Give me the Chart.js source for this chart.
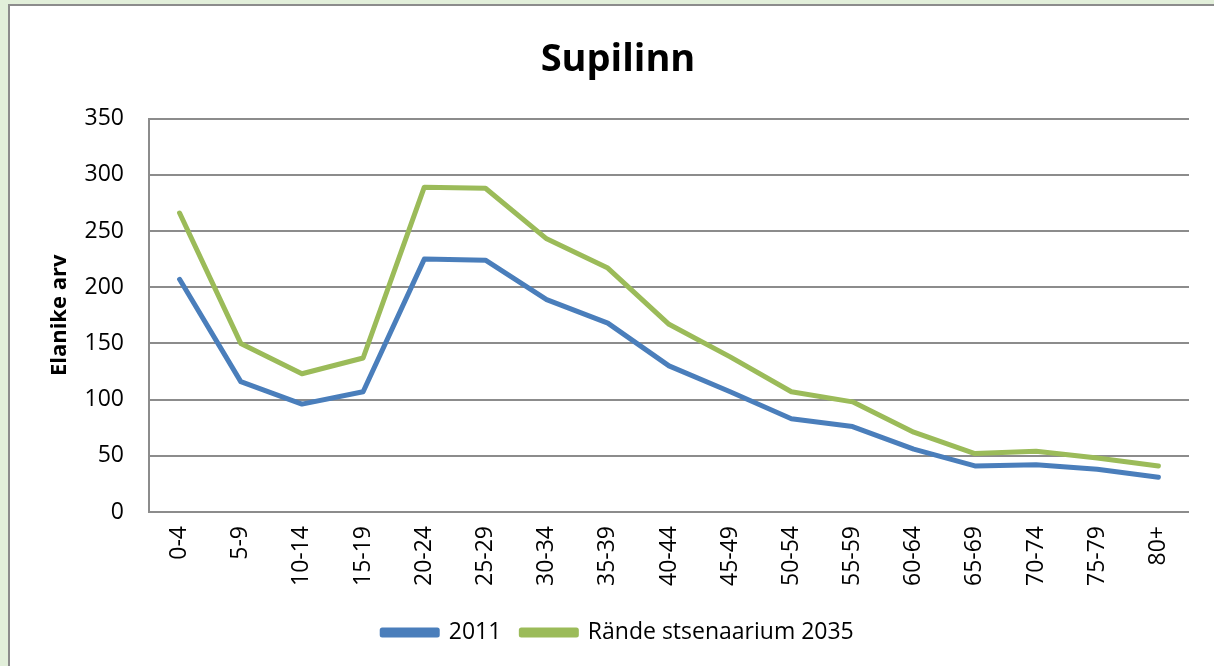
<!DOCTYPE html>
<html>
<head>
<meta charset="utf-8">
<script src="https://cdn.jsdelivr.net/npm/chart.js@4"></script>
<style>
	html, body { margin: 0; padding: 0; background: #e2efda; }
	#wrap { width: 1214px; height: 666px; position: relative; }
</style>
</head>
<body>
<div id="wrap"><canvas id="supilinn" width="1214" height="666"></canvas></div>
<script>
const ageGroups = ["0-4", "5-9", "10-14", "15-19", "20-24", "25-29", "30-34", "35-39", "40-44",
	"45-49", "50-54", "55-59", "60-64", "65-69", "70-74", "75-79", "80+"];

const pop2011 = [207, 116, 96, 107, 225, 224, 189, 168, 130, 107, 83, 76, 56, 41, 42, 38, 31];
const pop2035 = [266, 150, 123, 137, 289, 288, 243, 217, 167, 138, 107, 98, 71, 52, 54, 48, 41];

const yTicks = [0, 50, 100, 150, 200, 250, 300, 350];

const font = "'Open Sans', Lato, sans-serif";

// green page + white panel with grey frame
const panel = {
	id: "panel",
	beforeDraw(chart) {
		const ctx = chart.ctx;
		ctx.save();
		ctx.fillStyle = "#e2efda";
		ctx.fillRect(0, 0, chart.width, chart.height);
		ctx.fillStyle = "#ffffff";
		ctx.fillRect(9, 5, chart.width, chart.height);
		ctx.strokeStyle = "#8c8c8c";
		ctx.lineWidth = 2;
		ctx.beginPath();
		ctx.moveTo(9, chart.height);
		ctx.lineTo(9, 5);
		ctx.lineTo(chart.width, 5);
		ctx.stroke();
		ctx.restore();
	}
};

new Chart(document.querySelector("#supilinn"), {
	type: "line",
	data: {
		labels: ageGroups,
		datasets: [{
			label: "2011",
			data: pop2011,
			borderColor: "#4a7ebb",
			backgroundColor: "#4a7ebb",
			borderWidth: 5,
			borderJoinStyle: "round",
			borderCapStyle: "round",
			pointRadius: 0,
			tension: 0,
			fill: false
		}, {
			label: "Rände stsenaarium 2035",
			data: pop2035,
			borderColor: "#9bbb59",
			backgroundColor: "#9bbb59",
			borderWidth: 5,
			borderJoinStyle: "round",
			borderCapStyle: "round",
			pointRadius: 0,
			tension: 0,
			fill: false
		}]
	},
	options: {
		responsive: false,
		animation: false,
		layout: {
			padding: { left: 47, right: 25, top: 10, bottom: 12 }
		},
		plugins: {
			title: {
				display: true,
				text: "Supilinn",
				color: "#000",
				font: { family: font, size: 38, weight: "bold" },
				padding: { top: 27, bottom: 36 }
			},
			legend: {
				position: "bottom",
				labels: {
					color: "#000",
					font: { family: font, size: 23 },
					boxWidth: 55,
					boxHeight: 5,
					padding: 20
				}
			},
			tooltip: { enabled: false }
		},
		scales: {
			x: {
				offset: true,
				grid: { display: false, drawTicks: false },
				border: { display: false },
				ticks: {
					color: "#000",
					font: { family: font, size: 23 },
					minRotation: 90,
					maxRotation: 90,
					autoSkip: false,
					padding: 14
				},
				afterFit(scale) { scale.height = 89; }
			},
			y: {
				min: 0,
				max: 350,
				afterBuildTicks(scale) { scale.ticks = yTicks.map(v => ({ value: v })); },
				grid: { color: "#8c8c8c", lineWidth: 2, drawTicks: false },
				border: { display: true, color: "#8c8c8c", width: 2 },
				ticks: {
					color: "#000",
					font: { family: font, size: 23 },
					padding: 25
				},
				title: {
					display: true,
					text: "Elanike arv",
					color: "#000",
					font: { family: font, size: 22, weight: "bold" },
					padding: 0
				},
				afterFit(scale) { scale.width = 102; }
			}
		}
	},
	plugins: [panel]
});
</script>
</body>
</html>
